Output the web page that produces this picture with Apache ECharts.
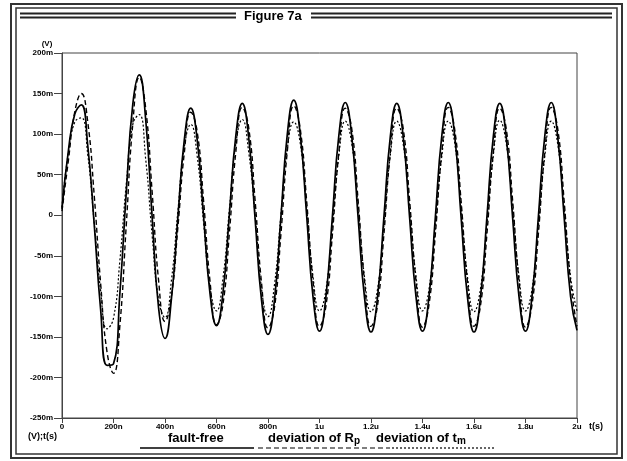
<!DOCTYPE html>
<html>
<head>
<meta charset="utf-8">
<script src="https://cdn.jsdelivr.net/npm/echarts@6/dist/echarts.min.js"></script>
<style>
html, body { margin: 0; padding: 0; background: #fff; }
#chart { width: 627px; height: 461px; }
</style>
</head>
<body>
<div id="chart"></div>
<script>
// time axis in ns, 25 ns step
const timeNs = [
  0, 25, 50, 75, 100, 125, 150, 175,
  200, 225, 250, 275, 300, 325, 350, 375,
  400, 425, 450, 475, 500, 525, 550, 575,
  600, 625, 650, 675, 700, 725, 750, 775,
  800, 825, 850, 875, 900, 925, 950, 975,
  1000, 1025, 1050, 1075, 1100, 1125, 1150, 1175,
  1200, 1225, 1250, 1275, 1300, 1325, 1350, 1375,
  1400, 1425, 1450, 1475, 1500, 1525, 1550, 1575,
  1600, 1625, 1650, 1675, 1700, 1725, 1750, 1775,
  1800, 1825, 1850, 1875, 1900, 1925, 1950, 1975,
  2000
]
// voltages in mV
const faultFree = [
  8, 80, 125, 136, 86, -11, -116, -185,
  -183, -95, 30, 137, 173, 118, -2, -114,
  -152, -103, -3, 93, 132, 93, -2, -97,
  -136, -96, 1, 98, 138, 96, -5, -105,
  -147, -105, -3, 100, 142, 100, 0, -101,
  -143, -100, -2, 98, 139, 98, -3, -102,
  -144, -102, -3, 97, 138, 97, -3, -101,
  -143, -101, -2, 98, 139, 98, -3, -102,
  -144, -102, -3, 97, 138, 97, -3, -101,
  -143, -101, -2, 98, 139, 97, -2, -100,
  -142
]
const devRp = [
  5, 68, 128, 150, 115, 25, -84, -169,
  -195, -135, -10, 113, 170, 132, 29, -80,
  -131, -100, -15, 77, 127, 103, 17, -82,
  -135, -110, -22, 78, 133, 108, 18, -84,
  -139, -114, -24, 79, 135, 107, 18, -82,
  -137, -112, -24, 77, 132, 107, 18, -82,
  -137, -112, -24, 77, 132, 107, 18, -82,
  -138, -111, -23, 78, 133, 106, 17, -83,
  -137, -112, -24, 77, 132, 107, 18, -82,
  -138, -111, -23, 78, 133, 107, 18, -82,
  -137
]
const devTm = [
  10, 78, 115, 120, 75, -9, -93, -140,
  -127, -55, 40, 112, 124, 69, -25, -104,
  -126, -80, 5, 84, 112, 73, -10, -89,
  -118, -78, 7, 88, 118, 78, 0, -91,
  -125, -86, 0, 82, 115, 89, 10, -76,
  -118, -92, -13, 73, 116, 89, 10, -77,
  -119, -92, -13, 74, 116, 88, 10, -76,
  -118, -92, -13, 73, 116, 89, 10, -77,
  -119, -91, -12, 74, 117, 89, 10, -76,
  -118, -92, -13, 73, 116, 88, 10, -76,
  -118
]
const xTickLabels = ['0', '200n', '400n', '600n', '800n', '1u', '1.2u', '1.4u', '1.6u', '1.8u', '2u']
const yTickLabels = ['-250m', '-200m', '-150m', '-100m', '-50m', '0', '50m', '100m', '150m', '200m']

const tickFont = { color: '#000', fontSize: 8, fontWeight: 'bold', fontFamily: 'Liberation Sans' }
const pairs = arr => timeNs.map((t, i) => [t, arr[i]])

const chart = echarts.init(document.getElementById('chart'))
const option = {
  animation: false,
  backgroundColor: '#fff',
  grid: { left: 62, right: 50, top: 53, bottom: 43, show: true, borderColor: '#444', borderWidth: 1 },
  xAxis: {
    type: 'value', min: 0, max: 2000, interval: 200,
    name: 't(s)', nameLocation: 'end', nameGap: 12,
    nameTextStyle: { ...tickFont, fontSize: 9, verticalAlign: 'top', padding: [4, 0, 0, 0] },
    axisLine: { onZero: false, lineStyle: { color: '#444' } },
    axisTick: { length: 5, lineStyle: { color: '#444' } },
    splitLine: { show: false },
    axisLabel: { ...tickFont, margin: 5, formatter: v => xTickLabels[Math.round(v / 200)] }
  },
  yAxis: {
    type: 'value', min: -250, max: 200, interval: 50,
    name: '(V)', nameLocation: 'end', nameGap: 5,
    nameTextStyle: { ...tickFont, fontSize: 8, padding: [0, 30, 0, 0] },
    axisLine: { show: true, onZero: false, lineStyle: { color: '#444' } },
    axisTick: { show: true, length: 8, lineStyle: { color: '#444' } },
    splitLine: { show: false },
    axisLabel: { ...tickFont, margin: 9, formatter: v => yTickLabels[Math.round((v + 250) / 50)] }
  },
  series: [
    { name: 'fault-free', type: 'line', data: pairs(faultFree), showSymbol: false, smooth: true,
      lineStyle: { color: '#000', width: 1.7 } },
    { name: 'deviation of Rp', type: 'line', data: pairs(devRp), showSymbol: false, smooth: true,
      lineStyle: { color: '#000', width: 1.4, type: [5, 3] } },
    { name: 'deviation of tm', type: 'line', data: pairs(devTm), showSymbol: false, smooth: true,
      lineStyle: { color: '#000', width: 1.2, type: [2, 2] } }
  ],
  graphic: [
    // frame
    { type: 'rect', silent: true, shape: { x: 11, y: 4, width: 611, height: 454 },
      style: { fill: null, stroke: '#333', lineWidth: 2 } },
    { type: 'rect', silent: true, shape: { x: 16, y: 8, width: 601, height: 446 },
      style: { fill: null, stroke: '#333', lineWidth: 1.5 } },
    // header bar
    { type: 'line', shape: { x1: 20, y1: 13.5, x2: 236, y2: 13.5 }, style: { stroke: '#222', lineWidth: 2 } },
    { type: 'line', shape: { x1: 20, y1: 17.5, x2: 236, y2: 17.5 }, style: { stroke: '#222', lineWidth: 2 } },
    { type: 'line', shape: { x1: 311, y1: 13.5, x2: 612, y2: 13.5 }, style: { stroke: '#222', lineWidth: 2 } },
    { type: 'line', shape: { x1: 311, y1: 17.5, x2: 612, y2: 17.5 }, style: { stroke: '#222', lineWidth: 2 } },
    { type: 'text', left: 244, top: 10,
      style: { text: 'Figure 7a', fill: '#000', font: 'bold 13px "Liberation Sans"' } },
    // unit caption
    { type: 'text', left: 28, top: 432,
      style: { text: '(V);t(s)', fill: '#000', font: 'bold 9px "Liberation Sans"' } },
    // legend
    { type: 'text', left: 168, top: 432,
      style: { text: 'fault-free', fill: '#000', font: 'bold 13px "Liberation Sans"' } },
    { type: 'line', shape: { x1: 140, y1: 448, x2: 254, y2: 448 }, style: { stroke: '#000', lineWidth: 1.3 } },
    { type: 'text', left: 268, top: 432,
      style: { text: 'deviation of R{s|p}', fill: '#000', font: 'bold 13px "Liberation Sans"',
        rich: { s: { fontSize: 10, fontWeight: 'bold', fontFamily: 'Liberation Sans', padding: [6, 0, 0, 0] } } } },
    { type: 'line', shape: { x1: 258, y1: 448, x2: 390, y2: 448 }, style: { stroke: '#000', lineWidth: 1.2, lineDash: [5, 3] } },
    { type: 'text', left: 376, top: 432,
      style: { text: 'deviation of t{s|m}', fill: '#000', font: 'bold 13px "Liberation Sans"',
        rich: { s: { fontSize: 10, fontWeight: 'bold', fontFamily: 'Liberation Sans', padding: [6, 0, 0, 0] } } } },
    { type: 'line', shape: { x1: 392, y1: 448, x2: 496, y2: 448 }, style: { stroke: '#000', lineWidth: 1.2, lineDash: [2, 2] } }
  ]
}
chart.setOption(option)
window.addEventListener('resize', () => {
  chart.resize()
})
</script>
</body>
</html>
